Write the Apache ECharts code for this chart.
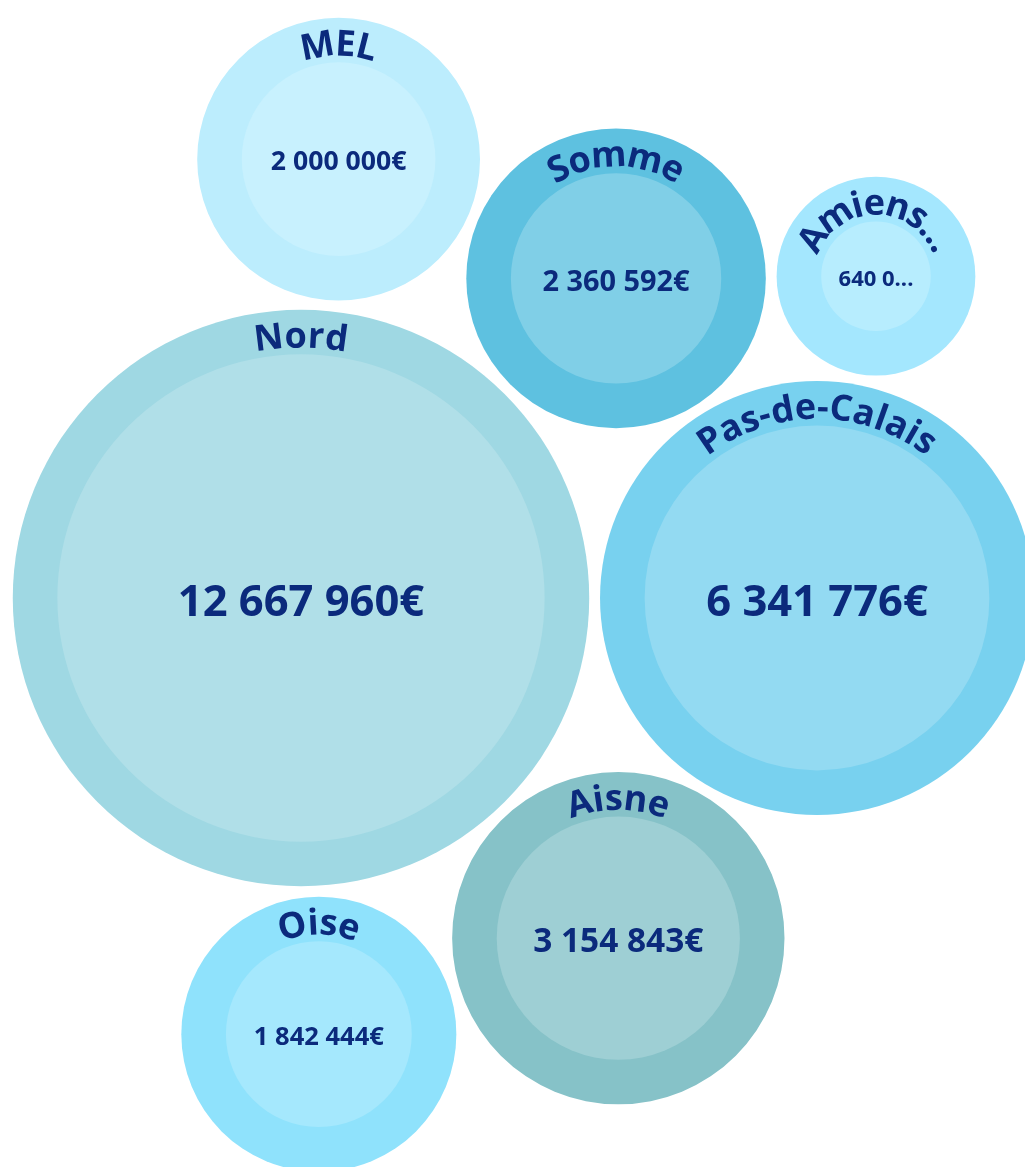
<!DOCTYPE html>
<html><head><meta charset="utf-8">
<script src="https://cdn.jsdelivr.net/npm/echarts@6/dist/echarts.min.js"></script>
<style>html,body{margin:0;padding:0;background:#fff}#c{width:1025px;height:1167px}</style>
</head><body><div id="c"></div><script>
// ---- data ----
const names = ['Nord', 'Pas-de-Calais', 'Aisne', 'Somme', 'MEL', 'Oise', 'Amiens Métropole'];
const values = [12667960, 6341776, 3154843, 2360592, 2000000, 1842444, 640000];
// ---- styles ----
const ringColors = ['#9fd8e3', '#78d1ef', '#86c2c8', '#5ec1e0', '#bcedfd', '#8fe2fc', '#a4e7fe'];
const coreColors = ['#b0dfe8', '#93daf2', '#9ecfd4', '#80cfe7', '#c8f1fe', '#a5e8fd', '#b7edfe'];
const FONT = '"Open Sans", sans-serif';
const TEXT_COLOR = '#0b2a7c';
const SIZE_K = 0.06845;   // radius units per sqrt(value)
const RING = 44.6;        // label ring thickness
const GAP = 10.8;         // gap between bubbles

// ---- circle packing (front-chain sibling packing) ----
function place(b, a, c) {
  const dx = b.x - a.x, dy = b.y - a.y, d2 = dx * dx + dy * dy;
  if (d2) {
    let a2 = a.r + c.r; a2 *= a2;
    let b2 = b.r + c.r; b2 *= b2;
    if (a2 > b2) {
      const x = (d2 + b2 - a2) / (2 * d2), y = Math.sqrt(Math.max(0, b2 / d2 - x * x));
      c.x = b.x - x * dx - y * dy; c.y = b.y - x * dy + y * dx;
    } else {
      const x = (d2 + a2 - b2) / (2 * d2), y = Math.sqrt(Math.max(0, a2 / d2 - x * x));
      c.x = a.x + x * dx - y * dy; c.y = a.y + x * dy + y * dx;
    }
  } else { c.x = a.x + c.r; c.y = a.y; }
}
function intersects(a, b) {
  const dr = a.r + b.r - 1e-6, dx = b.x - a.x, dy = b.y - a.y;
  return dr > 0 && dr * dr > dx * dx + dy * dy;
}
function score(node) {
  const a = node._, b = node.next._, ab = a.r + b.r;
  const dx = (a.x * b.r + b.x * a.r) / ab, dy = (a.y * b.r + b.y * a.r) / ab;
  return dx * dx + dy * dy;
}
function Node(c) { this._ = c; this.next = null; this.previous = null; }
function packSiblings(circles) {
  const n = circles.length;
  let a, b, c, aa, ca, i, j, k, sj, sk;
  a = circles[0]; a.x = 0; a.y = 0;
  if (n < 2) return;
  b = circles[1]; a.x = -b.r; b.x = a.r; b.y = 0;
  if (n < 3) return;
  place(b, a, c = circles[2]);
  a = new Node(a); b = new Node(b); c = new Node(c);
  a.next = c.previous = b; b.next = a.previous = c; c.next = b.previous = a;
  pack: for (i = 3; i < n; ++i) {
    place(a._, b._, c = circles[i]); c = new Node(c);
    j = b.next; k = a.previous; sj = b._.r; sk = a._.r;
    do {
      if (sj <= sk) {
        if (intersects(j._, c._)) { b = j; a.next = b; b.previous = a; --i; continue pack; }
        sj += j._.r; j = j.next;
      } else {
        if (intersects(k._, c._)) { a = k; a.next = b; b.previous = a; --i; continue pack; }
        sk += k._.r; k = k.previous;
      }
    } while (j !== k.next);
    c.previous = a; c.next = b; a.next = b.previous = b = c;
    aa = score(a);
    while ((c = c.next) !== b) { if ((ca = score(c)) < aa) { a = c; aa = ca; } }
    b = a.next;
  }
}

const circles = values.map((v, i) => {
  const inner = SIZE_K * Math.sqrt(v);
  return { i, inner, outer: inner + RING, r: inner + RING + GAP / 2 };
}).sort((p, q) => values[q.i] - values[p.i]);
packSiblings(circles);
const ox = circles[0].x, oy = circles[0].y;
const seriesData = circles.map(c => ({ name: names[c.i], idx: c.i, value: [c.x - ox, c.y - oy, c.inner, c.outer, values[c.i]] }));

// ---- text helpers ----
const ctx = document.createElement('canvas').getContext('2d');
function tw(s, size) { ctx.font = '700 ' + size + 'px ' + FONT; return ctx.measureText(s).width; }
function fmt(v) { return String(v).replace(/\B(?=(\d{3})+(?!\d))/g, ' ') + '€'; }

const NAME_FS = 36, LS = 1;
const VALUE_MAX_FS = 43.5, VALUE_MIN_FS = 22;

const chart = echarts.init(document.getElementById('c'), null, { renderer: 'canvas' });
chart.setOption({
  animation: false,
  grid: { left: 0, right: 0, top: 0, bottom: 0 },
  xAxis: { type: 'value', min: -301, max: 724, show: false },
  yAxis: { type: 'value', min: -598, max: 569, inverse: true, show: false },
  series: [{
    type: 'custom',
    coordinateSystem: 'cartesian2d',
    data: seriesData,
    clip: false,
    renderItem(params, api) {
      const i = seriesData[params.dataIndex].idx;
      const p = api.coord([api.value(0), api.value(1)]);
      const rIn = api.size([api.value(2), 0])[0];
      const rOut = api.size([api.value(3), 0])[0];
      const children = [
        { type: 'circle', shape: { cx: p[0], cy: p[1], r: rOut }, style: { fill: ringColors[i] } },
        { type: 'circle', shape: { cx: p[0], cy: p[1], r: rIn }, style: { fill: coreColors[i] } }
      ];
      // value label, fitted to the inner circle
      let label = fmt(api.value(4));
      const maxW = 0.70 * 2 * rIn;
      let fs = Math.min(VALUE_MAX_FS, 40 * maxW / tw(label, 40));
      fs = Math.max(fs, VALUE_MIN_FS);
      if (tw(label, fs) > maxW) {
        let t = label;
        while (t.length && tw(t.trimEnd() + '...', fs) > maxW) t = t.slice(0, -1);
        label = t.trimEnd() + '...';
      }
      children.push({ type: 'text', x: p[0], y: p[1] + 0.14 * fs, style: {
        text: label, fontSize: fs, fontWeight: 700, fontFamily: FONT, fill: TEXT_COLOR,
        align: 'center', verticalAlign: 'middle' } });
      // curved name along the ring
      const R = rIn + 17;
      const arcW = s => [...s].reduce((acc, ch) => acc + tw(ch, NAME_FS), 0) + LS * ([...s].length - 1);
      let text = names[i];
      const maxArc = 165 * Math.PI / 180 * R;
      if (arcW(text) > maxArc) {
        let t = text;
        while (t.length && arcW(t.trimEnd() + '...') > maxArc) t = t.slice(0, -1);
        text = t.trimEnd() + '...';
      }
      let s = -arcW(text) / 2;
      for (const ch of text) {
        const w = tw(ch, NAME_FS);
        const th = (s + w / 2) / R;
        children.push({ type: 'text', x: p[0] + R * Math.sin(th), y: p[1] - R * Math.cos(th), rotation: -th,
          style: { text: ch, fontSize: NAME_FS, fontWeight: 700, fontFamily: FONT, fill: TEXT_COLOR,
            align: 'center', verticalAlign: 'middle' } });
        s += w + LS;
      }
      return { type: 'group', children };
    }
  }]
});
</script></body></html>
